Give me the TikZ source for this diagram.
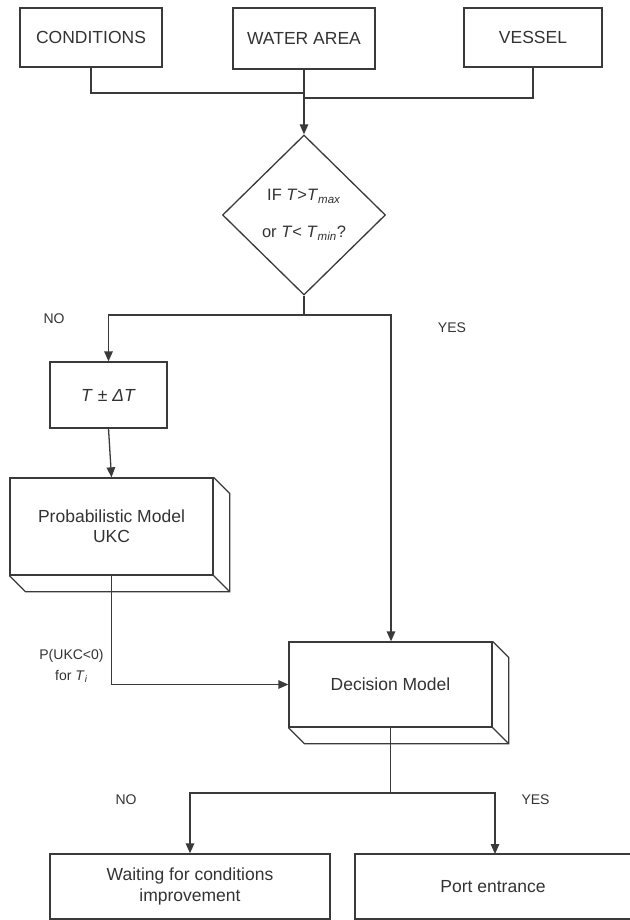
\documentclass[tikz,border=0pt]{standalone}
\usepackage{fontspec}
\setmainfont{Liberation Sans}
\usetikzlibrary{arrows.meta,shapes.geometric}
\definecolor{ln}{HTML}{3A3A3A}
\definecolor{tx}{HTML}{333333}
\begin{document}
\begin{tikzpicture}[x=1pt,y=-1pt,
  every node/.style={text=tx},
  conn/.style={draw=ln,line width=1.3pt},
  arr/.style={conn,-{Triangle[length=10pt,width=8.5pt]}},
  boxx/.style={draw=ln,line width=1.3pt,rectangle,inner sep=0pt,align=center,
    font=\fontsize{17.5}{21}\selectfont},
  lab/.style={font=\fontsize{14}{21}\selectfont,inner sep=0pt,align=center},
  face/.style={draw=ln,line width=1.3pt}]
\useasboundingbox (0,0) rectangle (629,920);
\fill[white] (0,0) rectangle (629,920);
% top boxes
\node[boxx,minimum width=142pt,minimum height=59pt] (cond) at (91,37.5) {CONDITIONS};
\node[boxx,minimum width=142pt,minimum height=61pt] (water) at (304,38.5) {WATER AREA};
\node[boxx,minimum width=138pt,minimum height=59pt] (vessel) at (533,37.5) {VESSEL};
% diamond
\node[draw=ln,line width=1.3pt,diamond,inner sep=0pt,minimum width=163pt,minimum height=160pt,
  align=center,font=\fontsize{16.5}{37}\selectfont] (dia) at (304,215)
  {IF \textit{T}>\textit{T}\textsubscript{\textit{max}}\\or \textit{T}< \textit{T}\textsubscript{\textit{min}}?};
% T box
\node[boxx,minimum width=117pt,minimum height=66pt] (tb) at (108.5,395) {\textit{T} ± \textit{ΔT}};
% probabilistic
\node[boxx,minimum width=203pt,minimum height=97pt,font=\fontsize{17.5}{20}\selectfont] (prob) at (111.5,526.5) {Probabilistic Model\\UKC};
\draw[face] (prob.north east) -- ++(16,16) -- ([shift={(16,16)}]prob.south east) -- ([shift={(16,16)}]prob.south west) -- (prob.south west);
\draw[face] (prob.south east) -- ++(16,16);
% decision
\node[boxx,minimum width=203pt,minimum height=85pt] (dec) at (390.5,684.5) {Decision Model};
\draw[face] (dec.north east) -- ++(16,16) -- ([shift={(16,16)}]dec.south east) -- ([shift={(16,16)}]dec.south west) -- (dec.south west);
\draw[face] (dec.south east) -- ++(16,16);
% bottom boxes
\node[boxx,minimum width=280pt,minimum height=65pt] (wait) at (190,886.5) {Waiting for conditions\\improvement};
\node[boxx,minimum width=276pt,minimum height=65pt] (port) at (493,886.5) {Port entrance};
% coordinates
\coordinate (j1) at (304,93);
\coordinate (j2) at (304,98);
\coordinate (s1) at (304,315);
\coordinate (s2) at (391,315);
\coordinate (b1) at (390.5,793);
\coordinate (pt) at (495,854);
% connectors
\draw[conn] (cond.south) |- (j1);
\draw[conn] (vessel.south) |- (j2);
\draw[arr] (water.south) -- (dia.north);
\draw[conn] (dia.south) -- (s1);
\draw[arr] (s1) -| (tb.north);
\draw[arr] (s1) -- (s2) -- (s2 |- dec.north);
\draw[arr] (tb.south) -- (prob.north);
\draw[arr] (prob.south) |- (dec.west);
\draw[conn] (dec.south) -- (b1);
\draw[arr] (b1) -| (wait.north);
\draw[arr] (b1) -| (pt);
% labels
\node[lab] (no1) at (54,319) {NO};
\node[lab] (yes1) at (452,328) {YES};
\node[lab] (no2) at (126,800) {NO};
\node[lab] (yes2) at (535.5,800) {YES};
\node[lab] (pl) at (71.5,665.5) {P(UKC<0)\\for \textit{T}\textsubscript{\textit{i}}};
\end{tikzpicture}
\end{document}
